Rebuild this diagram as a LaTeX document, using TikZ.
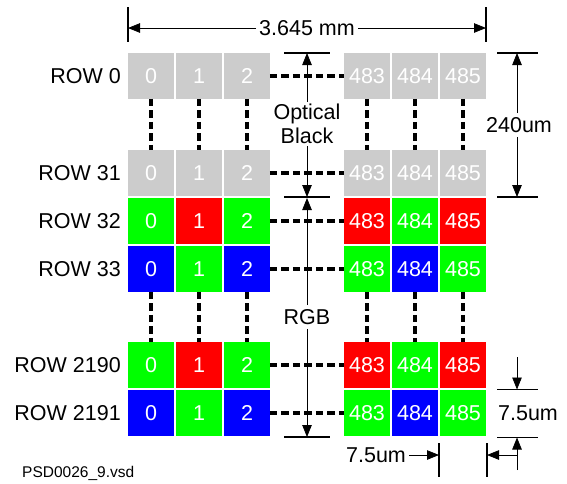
\documentclass[tikz,border=0pt]{standalone}
\usepackage{fontspec}
\setmainfont{Liberation Sans}
\usetikzlibrary{arrows.meta,positioning,calc}
\definecolor{obgray}{RGB}{204,204,204}
\definecolor{pxred}{RGB}{255,0,0}
\definecolor{pxgreen}{RGB}{0,255,0}
\definecolor{pxblue}{RGB}{0,0,255}
\tikzset{
  bigtxt/.style={font=\fontsize{21.5}{24}\selectfont},
  px/.style={bigtxt,minimum size=45.5pt,inner sep=0pt,text=white},
  rowlbl/.style={bigtxt,anchor=east,inner sep=0pt},
  dashlink/.style={line width=3.2pt,dash pattern=on 7.5pt off 4pt},
  dimarrow/.style={line width=0.8pt,-{Triangle[length=12pt,width=9.5pt]}},
  dimbar/.style={line width=1.1pt},
}
\begin{document}
\begin{tikzpicture}[x=1pt,y=-1pt]
\useasboundingbox (0,0) rectangle (567,483);
% pixel rows: number / y / colours 0,1,2 / colours 483,484,485
\foreach \r/\y/\a/\b/\c/\d/\e/\f in {
  0/76/obgray/obgray/obgray/obgray/obgray/obgray,
  31/173/obgray/obgray/obgray/obgray/obgray/obgray,
  32/221/pxgreen/pxred/pxgreen/pxred/pxgreen/pxred,
  33/269/pxblue/pxgreen/pxblue/pxgreen/pxblue/pxgreen,
  2190/365/pxgreen/pxred/pxgreen/pxred/pxgreen/pxred,
  2191/413/pxblue/pxgreen/pxblue/pxgreen/pxblue/pxgreen}{
  \node[rowlbl] (lbl\r) at (121,\y) {ROW \r};
  \node[px,fill=\a] (p\r-0) at (151,\y) {0};
  \node[px,fill=\b] (p\r-1) at (199,\y) {1};
  \node[px,fill=\c] (p\r-2) at (247,\y) {2};
  \node[px,fill=\d] (p\r-483) at (367,\y) {483};
  \node[px,fill=\e] (p\r-484) at (415,\y) {484};
  \node[px,fill=\f] (p\r-485) at (463,\y) {485};
  \draw[dashlink] (p\r-2.east) -- (p\r-483.west);
}
\foreach \k in {0,1,2,483,484,485}{
  \draw[dashlink] (p0-\k.south) -- (p31-\k.north);
  \draw[dashlink] (p33-\k.south) -- (p2190-\k.north);
}

% overall width
\coordinate (wl) at (128,7);
\coordinate (wr) at (486,7);
\draw[dimbar] (wl) -- ++(0,35);
\draw[dimbar] (wr) -- ++(0,35);
\node[bigtxt,inner sep=3pt] (width) at (307,28) {3.645 mm};
\draw[dimarrow] (width.west) -- (width.west -| wl);
\draw[dimarrow] (width.east) -- (width.east -| wr);

% optical black
\node[bigtxt,align=center,inner sep=2pt] (ob) at (307,124) {Optical\\Black};
\coordinate (obtop) at (307,53);
\coordinate (obbot) at (307,197);
\draw[dimbar] ([xshift=-23pt]obtop) -- ([xshift=23pt]obtop);
\draw[dimbar] ([xshift=-23pt]obbot) -- ([xshift=23pt]obbot);
\draw[dimarrow] (ob.north) -- (obtop);
\draw[dimarrow] (ob.south) -- (obbot);

% rgb
\node[bigtxt,inner sep=4pt] (rgb) at (307,317) {RGB};
\coordinate (rgbtop) at (307,198);
\coordinate (rgbbot) at (307,437);
\draw[dimbar] ([xshift=-23pt]rgbbot) -- ([xshift=23pt]rgbbot);
\draw[dimarrow] (rgb.north) -- (rgbtop);
\draw[dimarrow] (rgb.south) -- (rgbbot);

% 240um
\node[bigtxt,inner sep=4pt] (ht) at (519,125) {240um};
\coordinate (httop) at (517,53);
\coordinate (htbot) at (517,197);
\draw[dimbar] ([xshift=-20pt]httop) -- ([xshift=21pt]httop);
\draw[dimbar] ([xshift=-20pt]htbot) -- ([xshift=21pt]htbot);
\draw[dimarrow] (ht.north -| httop) -- (httop);
\draw[dimarrow] (ht.south -| htbot) -- (htbot);

% pixel height
\node[bigtxt,inner sep=2pt] (ph) at (528,413) {7.5um};
\coordinate (phtop) at (517,389.5);
\coordinate (phbot) at (517,437.5);
\coordinate (phin) at (517,357);
\coordinate (phout) at (517,470);
\draw[dimbar] ([xshift=-20pt]phtop) -- ([xshift=21pt]phtop);
\draw[dimbar] ([xshift=-20pt]phbot) -- ([xshift=21pt]phbot);
\draw[dimarrow] (phin) -- (phtop);
\draw[dimarrow] (phout) -- (phbot);

% pixel width
\node[bigtxt,inner sep=3pt] (pw) at (376,455) {7.5um};
\coordinate (pwl) at (439,443);
\coordinate (pwr) at (487,443);
\draw[dimbar] (pwl) -- ++(0,34);
\draw[dimbar] (pwr) -- ++(0,34);
\draw[dimarrow] (pw.east) -- (pw.east -| pwl);
\draw[dimarrow] (pw.east -| phout) -- (pw.east -| pwr);

\node[font=\fontsize{15.5}{18}\selectfont,anchor=west,inner sep=0pt] (file) at (22,473) {PSD0026\_9.vsd};
\end{tikzpicture}
\end{document}
